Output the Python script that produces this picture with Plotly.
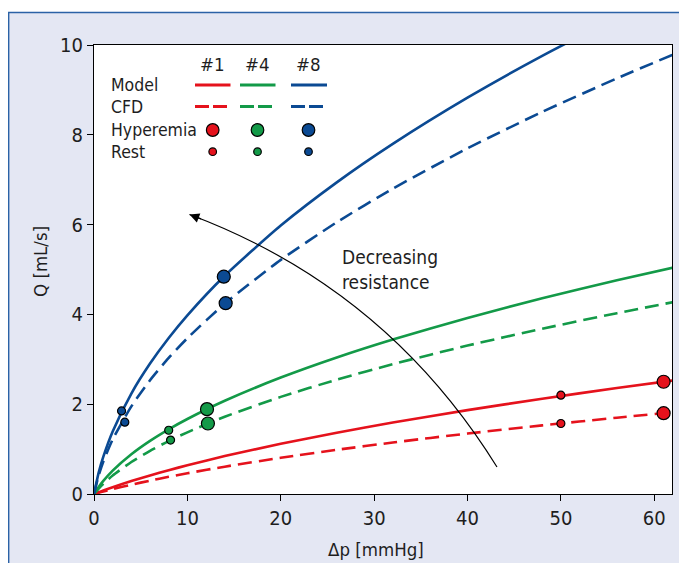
import plotly.graph_objects as go

# ---------------- data ----------------
dp_grid = [0, 0.5, 1, 2, 4, 6, 8, 10, 14, 20, 26, 32, 40, 48, 56, 62]

q_model_1 = [0, 0.039, 0.077, 0.150, 0.287, 0.412, 0.530, 0.640, 0.844, 1.119, 1.365, 1.591, 1.868, 2.122, 2.359, 2.528]
q_cfd_1 = [0, 0.028, 0.056, 0.109, 0.207, 0.298, 0.383, 0.462, 0.609, 0.807, 0.984, 1.147, 1.346, 1.529, 1.699, 1.820]
q_model_4 = [0, 0.158, 0.293, 0.521, 0.885, 1.183, 1.440, 1.670, 2.076, 2.593, 3.041, 3.441, 3.922, 4.358, 4.759, 5.042]
q_cfd_4 = [0, 0.121, 0.227, 0.411, 0.712, 0.961, 1.179, 1.374, 1.720, 2.163, 2.547, 2.892, 3.305, 3.681, 4.027, 4.272]
q_model_8 = [0, 0.475, 0.832, 1.394, 2.238, 2.905, 3.475, 3.980, 4.861, 5.979, 6.941, 7.798, 8.827, 9.758, 10.61, 11.22]
q_cfd_8 = [0, 0.414, 0.725, 1.214, 1.951, 2.533, 3.030, 3.470, 4.239, 5.214, 6.053, 6.801, 7.699, 8.510, 9.257, 9.784]

cases = ["#1", "#4", "#8"]
hyper_dp_model = [61.0, 12.1, 13.9]
hyper_q_model = [2.50, 1.89, 4.84]
hyper_dp_cfd = [61.0, 12.2, 14.1]
hyper_q_cfd = [1.80, 1.57, 4.25]
rest_dp_model = [50.0, 8.0, 2.95]
rest_q_model = [2.20, 1.42, 1.85]
rest_dp_cfd = [50.0, 8.2, 3.3]
rest_q_cfd = [1.57, 1.20, 1.60]

x_ticks = [0, 10, 20, 30, 40, 50, 60]
y_ticks = [0, 2, 4, 6, 8, 10]
legend_rows = ["Model", "CFD", "Hyperemia", "Rest"]

# ---------------- styling ----------------
RED, GREEN, BLUE = "#e5121c", "#139a48", "#0b4a93"
colors = [RED, GREEN, BLUE]
FONT = "DejaVu Sans Condensed, Liberation Sans Narrow, Arial Narrow, sans-serif"
TXT = "#1e1e1e"
BG = "#e4e7f3"
BORDER = "#2b62a6"
DASH = "14px,7px"

OFF = 8  # page body margin
W, H = 687, 563 - OFF
ML, MR, MT, MB = 86, 23, 37, 69
PW, PH = W - ML - MR, H - MT - MB


def px(xw):
    """window pixel x -> paper x"""
    return (xw - OFF - ML) / PW


def py(yw):
    """window pixel y -> paper y"""
    return (H - MB - (yw - OFF)) / PH


fig = go.Figure()

model_series = [q_model_1, q_model_4, q_model_8]
cfd_series = [q_cfd_1, q_cfd_4, q_cfd_8]
for i, c in enumerate(colors):
    fig.add_trace(go.Scatter(x=dp_grid, y=model_series[i], mode="lines",
                             line=dict(color=c, width=2.6, shape="spline", smoothing=0.6),
                             showlegend=False, hoverinfo="skip"))
    fig.add_trace(go.Scatter(x=dp_grid, y=cfd_series[i], mode="lines",
                             line=dict(color=c, width=2.6, dash=DASH, shape="spline", smoothing=0.6),
                             showlegend=False, hoverinfo="skip"))

for xs, ys, size in [(hyper_dp_model, hyper_q_model, 13), (hyper_dp_cfd, hyper_q_cfd, 13),
                     (rest_dp_model, rest_q_model, 8), (rest_dp_cfd, rest_q_cfd, 8)]:
    fig.add_trace(go.Scatter(x=xs, y=ys, mode="markers", text=cases,
                             marker=dict(color=colors, size=size, line=dict(color="black", width=1.2)),
                             showlegend=False, cliponaxis=False))

shapes = []
annotations = []

# outer frame (white strip on top, blue frame line on top and left)
shapes.append(dict(type="rect", xref="paper", yref="paper", x0=px(-5), x1=px(710), y0=py(12), y1=py(-5),
                   fillcolor="white", line=dict(width=0), layer="above"))
shapes.append(dict(type="line", xref="paper", yref="paper", x0=px(8), x1=px(710), y0=py(12.5), y1=py(12.5),
                   line=dict(color=BORDER, width=1.6)))
shapes.append(dict(type="line", xref="paper", yref="paper", x0=px(8.6), x1=px(8.6), y0=py(12), y1=py(600),
                   line=dict(color=BORDER, width=1.6)))

# legend table
col_x = [212.7, 257.5, 308.5]
seg = [(195, 230.5), (240, 275.5), (291, 327)]
row_y = [85, 106.5, 130, 151.7]
for j, name in enumerate(legend_rows):
    annotations.append(dict(text=name, xref="paper", yref="paper", x=px(109), y=py(row_y[j]),
                            xanchor="left", yanchor="middle", showarrow=False,
                            font=dict(family=FONT, size=17.5, color=TXT)))
for i, c in enumerate(colors):
    annotations.append(dict(text=cases[i], xref="paper", yref="paper", x=px(col_x[i]), y=py(64),
                            xanchor="center", yanchor="middle", showarrow=False,
                            font=dict(family=FONT, size=18.5, color=TXT)))
    shapes.append(dict(type="line", xref="paper", yref="paper", x0=px(seg[i][0]), x1=px(seg[i][1]),
                       y0=py(row_y[0]), y1=py(row_y[0]), line=dict(color=c, width=3)))
    shapes.append(dict(type="line", xref="paper", yref="paper", x0=px(seg[i][0]), x1=px(seg[i][1]),
                       y0=py(row_y[1]), y1=py(row_y[1]), line=dict(color=c, width=3, dash="14px,4px")))
    for r, rad in [(row_y[2], 6.3), (row_y[3], 3.8)]:
        shapes.append(dict(type="circle", xref="paper", yref="paper",
                           x0=px(col_x[i] - rad), x1=px(col_x[i] + rad),
                           y0=py(r + rad), y1=py(r - rad), fillcolor=c,
                           line=dict(color="black", width=1.2)))

# curved arrow
p0 = (497, 467)
cp = (386, 288)
p2 = (189.5, 214.5)
path = "M {:.4f},{:.4f} Q {:.4f},{:.4f} {:.4f},{:.4f}".format(px(p0[0]), py(p0[1]), px(cp[0]), py(cp[1]),
                                                          px(p2[0]), py(p2[1]))
shapes.append(dict(type="path", xref="paper", yref="paper", path=path, line=dict(color="black", width=1.2)))
annotations.append(dict(text="", xref="paper", yref="paper", x=px(p2[0]), y=py(p2[1]),
                        ax=13, ay=5, showarrow=True, arrowhead=2, arrowsize=1.5, arrowwidth=1.3,
                        arrowcolor="black", standoff=0))

annotations.append(dict(text="Decreasing<br>resistance", xref="paper", yref="paper", x=px(340), y=py(269),
                        xanchor="left", yanchor="middle", align="left", showarrow=False,
                        font=dict(family=FONT, size=19, color=TXT)))

# axis titles
annotations.append(dict(text="Δp [mmHg]", xref="paper", yref="paper", x=px(376), y=py(549),
                        xanchor="center", yanchor="middle", showarrow=False,
                        font=dict(family=FONT, size=18.5, color=TXT)))
annotations.append(dict(text="Q [mL/s]", xref="paper", yref="paper", x=px(41), y=py(262),
                        xanchor="center", yanchor="middle", showarrow=False, textangle=-90,
                        font=dict(family=FONT, size=18.5, color=TXT)))

fig.update_layout(
    width=W, height=H,
    margin=dict(l=ML, r=MR, t=MT, b=MB, pad=0),
    paper_bgcolor=BG, plot_bgcolor="white",
    shapes=shapes, annotations=annotations,
    font=dict(family=FONT, size=18, color=TXT),
    showlegend=False,
)
fig.update_xaxes(range=[0, 61.9], tickvals=x_ticks, ticks="outside", ticklen=6, tickwidth=1.2,
                 tickcolor="black", showline=True, linecolor="black", linewidth=1.3, mirror=True,
                 showgrid=False, zeroline=False, tickfont=dict(family=FONT, size=20, color=TXT))
fig.update_yaxes(range=[0, 10], tickvals=y_ticks, ticks="outside", ticklen=6, tickwidth=1.2,
                 tickcolor="black", showline=True, linecolor="black", linewidth=1.3, mirror=True,
                 showgrid=False, zeroline=False, tickfont=dict(family=FONT, size=20, color=TXT))

fig.write_html("out.html")
